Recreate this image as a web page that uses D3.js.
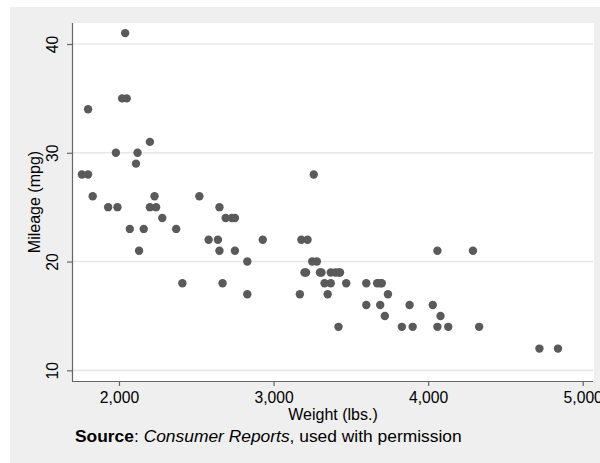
<!DOCTYPE html>
<html><head><meta charset="utf-8">
<script src="https://cdn.jsdelivr.net/npm/d3@7"></script>
<style>body{margin:0;background:#fff}svg{display:block}</style>
</head><body>
<svg id="c" width="600" height="463"></svg>
<script>
const weight = [2930,3350,2640,3250,4080,3670,2230,3280,3880,3400,4330,3900,4290,2110,3690,3180,3220,2750,3430,2120,3600,3600,3740,1800,2650,4840,4720,3830,2580,4060,3720,3370,4130,2830,4060,3310,3300,3690,3370,2730,4030,3260,1800,2200,2520,3330,3700,3470,3210,3200,3420,2690,2830,2070,2650,2370,2020,2280,2750,2130,2240,1760,1980,3420,1830,2050,2410,2200,2670,2160,2040,1930,1990,3170];
const mpg = [22,17,22,20,15,18,26,20,16,19,14,14,21,29,16,22,22,24,19,30,18,16,17,28,21,12,12,14,22,14,15,18,14,20,21,19,19,18,19,24,16,28,34,25,26,18,18,18,19,19,19,24,17,23,25,23,35,24,21,21,25,28,30,14,26,35,18,31,18,23,41,25,25,17];
const xTicks = [2000,3000,4000,5000];
const yTicks = [10,20,30,40];

const svg = d3.select("#c");
const font = "'Liberation Sans', Arial, Helvetica, sans-serif";
const L = 72, R = 594, T = 23, B = 381;
const x = d3.scaleLinear().domain([1696, 5073]).range([L, R]);
const y = d3.scaleLinear().domain([9.02, 41.93]).range([B, T]);

svg.append("rect").attr("x",10).attr("y",7).attr("width",600).attr("height",470).attr("fill","#efefef");
svg.append("rect").attr("x",L).attr("y",T).attr("width",R-L).attr("height",B-T).attr("fill","#fff");

// gridlines
svg.append("g").selectAll("line").data(yTicks).join("line")
  .attr("x1",L).attr("x2",R-1).attr("y1",d=>y(d)).attr("y2",d=>y(d))
  .attr("stroke","#e8e8e8").attr("stroke-width",1.6);

// axes
const yAxis = svg.append("g").attr("transform",`translate(${L},0)`)
  .call(d3.axisLeft(y).tickValues(yTicks).tickSize(5));
yAxis.select(".domain").attr("d",`M0.5,${T}V${B}`).attr("stroke","#666").attr("stroke-width",1.2);
yAxis.selectAll(".tick line").attr("stroke","#666").attr("stroke-width",1.2);
yAxis.selectAll(".tick text").remove();
yAxis.selectAll(".tick").append("text")
  .attr("transform","translate(-14,0) rotate(-90)")
  .attr("text-anchor","middle").attr("font-family",font).attr("font-size",15.7).attr("fill","#000")
  .text(d=>d);

const xAxis = svg.append("g").attr("transform",`translate(0,${B})`)
  .call(d3.axisBottom(x).tickValues(xTicks).tickSize(5).tickPadding(6).tickFormat(d3.format(",")));
xAxis.select(".domain").attr("d",`M${L},0.5H${R-1}`).attr("stroke","#666").attr("stroke-width",1.2);
xAxis.selectAll(".tick line").attr("stroke","#666").attr("stroke-width",1.2);
xAxis.selectAll(".tick text").attr("font-family",font).attr("font-size",15.7).attr("fill","#000");

// points
svg.append("g").selectAll("circle").data(weight.map((w,i)=>[w,mpg[i]])).join("circle")
  .attr("cx",d=>x(d[0])).attr("cy",d=>y(d[1])).attr("r",4.2).attr("fill","#5a5a5a");

// titles
svg.append("text").attr("x",(L+R)/2).attr("y",420).attr("text-anchor","middle")
  .attr("font-family",font).attr("font-size",16).text("Weight (lbs.)");
svg.append("text").attr("transform",`translate(40,${(T+B)/2}) rotate(-90)`).attr("text-anchor","middle")
  .attr("font-family",font).attr("font-size",16).text("Mileage (mpg)");

const src = svg.append("text").attr("x",75).attr("y",442).attr("font-family",font).attr("font-size",17.4);
src.append("tspan").attr("font-weight","bold").text("Source");
src.append("tspan").text(": ");
src.append("tspan").attr("font-style","italic").text("Consumer Reports");
src.append("tspan").text(", used with permission");
</script>
</body></html>
